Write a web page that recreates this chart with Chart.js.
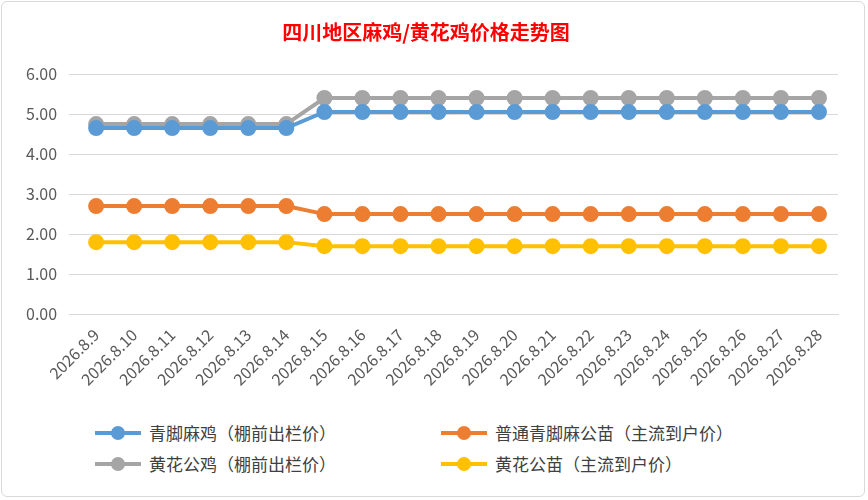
<!DOCTYPE html>
<html><head><meta charset="utf-8">
<script src="https://cdn.jsdelivr.net/npm/chart.js@4/dist/chart.umd.min.js"></script>
<style>
body{margin:0;background:#fff;font-family:"Noto Sans CJK SC",sans-serif}
#wrap{position:absolute;left:1px;top:1px;width:864px;height:496px;border:1px solid #d9d9d9;border-radius:6px;box-sizing:border-box}
#c{position:absolute;left:0;top:0}
.lg{position:absolute;font-size:17px;color:#404040;display:flex;align-items:center;white-space:nowrap}
.ln{width:46px;height:4px;position:relative;margin-right:8px}
.ln i{position:absolute;left:16px;top:-5px;width:14px;height:14px;border-radius:50%}
</style></head><body>
<div id="wrap"></div>
<canvas id="c" width="868" height="392" style="width:868px;height:392px"></canvas>
<div class="lg" style="left:95px;top:420px"><div class="ln" style="background:#5b9bd5"><i style="background:#5b9bd5"></i></div>青脚麻鸡（棚前出栏价）</div>
<div class="lg" style="left:441px;top:420px"><div class="ln" style="background:#ed7d31"><i style="background:#ed7d31"></i></div>普通青脚麻公苗（主流到户价）</div>
<div class="lg" style="left:95px;top:451px"><div class="ln" style="background:#a5a5a5"><i style="background:#a5a5a5"></i></div>黄花公鸡（棚前出栏价）</div>
<div class="lg" style="left:441px;top:451px"><div class="ln" style="background:#ffc000"><i style="background:#ffc000"></i></div>黄花公苗（主流到户价）</div>
<script>
const categories=["2026.8.9","2026.8.10","2026.8.11","2026.8.12","2026.8.13","2026.8.14","2026.8.15","2026.8.16","2026.8.17","2026.8.18","2026.8.19","2026.8.20","2026.8.21","2026.8.22","2026.8.23","2026.8.24","2026.8.25","2026.8.26","2026.8.27","2026.8.28"];
const qingjiao=[4.65,4.65,4.65,4.65,4.65,4.65,5.05,5.05,5.05,5.05,5.05,5.05,5.05,5.05,5.05,5.05,5.05,5.05,5.05,5.05];
const qingjiaoMiao=[2.7,2.7,2.7,2.7,2.7,2.7,2.5,2.5,2.5,2.5,2.5,2.5,2.5,2.5,2.5,2.5,2.5,2.5,2.5,2.5];
const huanghua=[4.75,4.75,4.75,4.75,4.75,4.75,5.4,5.4,5.4,5.4,5.4,5.4,5.4,5.4,5.4,5.4,5.4,5.4,5.4,5.4];
const huanghuaMiao=[1.8,1.8,1.8,1.8,1.8,1.8,1.7,1.7,1.7,1.7,1.7,1.7,1.7,1.7,1.7,1.7,1.7,1.7,1.7,1.7];
const names=["青脚麻鸡（棚前出栏价）","普通青脚麻公苗（主流到户价）","黄花公鸡（棚前出栏价）","黄花公苗（主流到户价）"];
const colors=["#5b9bd5","#ed7d31","#a5a5a5","#ffc000"];
const ds=[qingjiao,qingjiaoMiao,huanghua,huanghuaMiao].map((d,i)=>({label:names[i],data:d,borderColor:colors[i],backgroundColor:colors[i],borderWidth:4,pointRadius:6,pointHoverRadius:6,tension:0}));
new Chart(document.getElementById('c'),{type:'line',data:{labels:categories,datasets:ds},
options:{responsive:false,animation:false,
layout:{padding:{left:14,right:30,top:12,bottom:0}},
plugins:{legend:{display:false},tooltip:{enabled:false},
title:{display:true,text:'四川地区麻鸡/黄花鸡价格走势图',color:'#ff0000',font:{size:20,weight:'bold',family:'"Noto Sans CJK SC"'},padding:{top:8,bottom:30}}},
scales:{x:{offset:true,grid:{display:false},border:{color:'#d9d9d9'},ticks:{color:'#595959',font:{size:16,family:'"Noto Sans CJK SC"'},maxRotation:45,minRotation:45,autoSkip:false}},
y:{min:0,max:6,ticks:{stepSize:1,color:'#595959',font:{size:16,family:'"Noto Sans CJK SC"'},callback:v=>v.toFixed(2),padding:12},grid:{color:'#d9d9d9'},border:{display:false}}}}});
</script></body></html>
